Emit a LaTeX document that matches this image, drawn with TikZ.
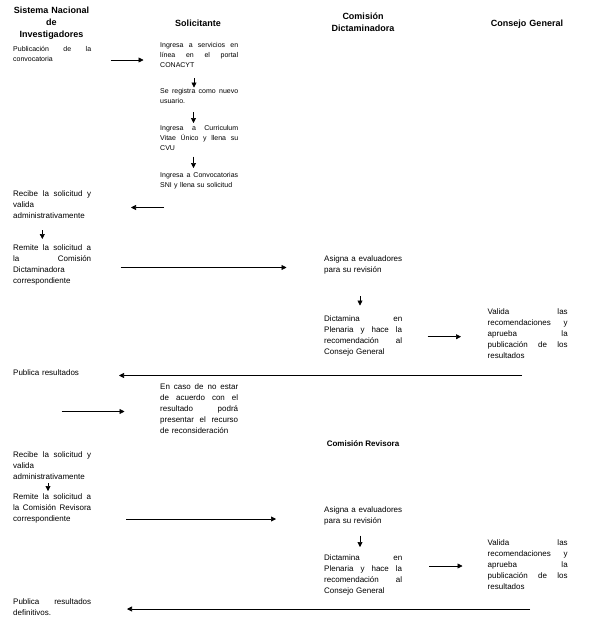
\documentclass[tikz,border=0pt]{standalone}
\usepackage{fontspec}
\setmainfont{Liberation Sans}
\usetikzlibrary{arrows.meta}
\newcommand{\jl}[2][78pt]{\makebox[#1][s]{\spaceskip=0.28em plus 1fil\relax #2}}
\begin{document}
\begin{tikzpicture}[x=1pt,y=-1pt,
  hdr/.style={font=\fontsize{9}{12.2}\selectfont\bfseries, text width=110pt, align=center, inner sep=0pt, anchor=base},
  sub/.style={font=\fontsize{8}{11}\selectfont\bfseries, inner sep=0pt, anchor=base},
  sm/.style={font=\fontsize{7}{10.2}\selectfont, text width=78pt, align=left, inner sep=0pt, anchor=base west},
  tx/.style={font=\fontsize{8}{11}\selectfont, text width=78pt, align=left, inner sep=0pt, anchor=base west},
  arr/.style={line width=0.6pt, -{Triangle[length=5pt,width=5pt]}}]
\useasboundingbox[fill=white] (0,0) rectangle (590,630);

% headers
\node[hdr] (h1) at (51.5,13.3) {Sistema Nacional\\de\\Investigadores};
\node[hdr] (h2) at (198,26.5) {Solicitante};
\node[hdr] (h3) at (363,19) {Comisión\\Dictaminadora};
\node[hdr] (h4) at (527,26) {Consejo General};

% column 1
\node[sm] (pub) at (13,51.5) {\jl{Publicación de la}\\convocatoria};
\node[tx] (rec1) at (13,196.5) {\jl{Recibe la solicitud y}\\valida\\administrativamente};
\node[tx] (rem1) at (13,250) {\jl{Remite la solicitud a}\\\jl{la Comisión}\\Dictaminadora\\correspondiente};
\node[tx] (pubr) at (13,375) {Publica resultados};
\node[tx] (rec2) at (13,457) {\jl{Recibe la solicitud y}\\valida\\administrativamente};
\node[tx] (rem2) at (13,499.5) {\jl{Remite la solicitud a}\\\jl{la Comisión Revisora}\\correspondiente};
\node[tx] (pubd) at (13,604) {\jl{Publica resultados}\\definitivos.};

% column 2
\node[sm] (ing) at (160,47.3) {\jl{Ingresa a servicios en}\\\jl{línea en el portal}\\CONACYT};
\node[sm] (reg) at (160,93) {\jl{Se registra como nuevo}\\usuario.};
\node[sm] (cvu) at (160,130.5) {\jl{Ingresa a Curriculum}\\\jl{Vitae Único y llena su}\\CVU};
\node[sm] (conv) at (160,177.3) {\jl{Ingresa a Convocatorias}\\SNI y llena su solicitud};
\node[tx] (caso) at (160,389.5) {\jl{En caso de no estar}\\\jl{de acuerdo con el}\\\jl{resultado podrá}\\\jl{presentar el recurso}\\de reconsideración};

% column 3
\node[tx] (asig1) at (324,261.3) {\jl{Asigna a evaluadores}\\para su revisión};
\node[tx] (dict1) at (324,321.7) {\jl{Dictamina en}\\\jl{Plenaria y hace la}\\\jl{recomendación al}\\Consejo General};
\node[sub] (crev) at (363,446) {Comisión Revisora};
\node[tx] (asig2) at (324,512.5) {\jl{Asigna a evaluadores}\\para su revisión};
\node[tx] (dict2) at (324,560) {\jl{Dictamina en}\\\jl{Plenaria y hace la}\\\jl{recomendación al}\\Consejo General};

% column 4
\node[tx,text width=80pt] (val1) at (487.5,314) {\jl[80pt]{Valida las}\\\jl[80pt]{recomendaciones y}\\\jl[80pt]{aprueba la}\\\jl[80pt]{publicación de los}\\resultados};
\node[tx,text width=80pt] (val2) at (487.5,545) {\jl[80pt]{Valida las}\\\jl[80pt]{recomendaciones y}\\\jl[80pt]{aprueba la}\\\jl[80pt]{publicación de los}\\resultados};

% arrow end points
\coordinate (a1s) at (110.5,60);  \coordinate (a1e) at (143.5,60);
\coordinate (a2s) at (194,78);    \coordinate (a2e) at (194,87.5);
\coordinate (a3s) at (193.5,112); \coordinate (a3e) at (193.5,123);
\coordinate (a4s) at (193.5,156.5); \coordinate (a4e) at (193.5,168);
\coordinate (a5s) at (164,207.5); \coordinate (a5e) at (131,207.5);
\coordinate (a6s) at (42.3,230);  \coordinate (a6e) at (42.3,239);
\coordinate (a7s) at (120.7,267.5); \coordinate (a7e) at (286.5,267.5);
\coordinate (a8s) at (360,296);   \coordinate (a8e) at (360,305.5);
\coordinate (a9s) at (427.7,336.7); \coordinate (a9e) at (461,336.7);
\coordinate (a10s) at (522,375.5); \coordinate (a10e) at (119,375.5);
\coordinate (a11s) at (61.7,411.5); \coordinate (a11e) at (124.5,411.5);
\coordinate (a12s) at (48,483);   \coordinate (a12e) at (48,491);
\coordinate (a13s) at (126,519);  \coordinate (a13e) at (276,519);
\coordinate (a14s) at (360,535.5); \coordinate (a14e) at (360,547);
\coordinate (a15s) at (429,566);  \coordinate (a15e) at (462.5,566);
\coordinate (a16s) at (530,609);  \coordinate (a16e) at (127,609);

\foreach \i in {1,...,16} \draw[arr] (a\i s) -- (a\i e);
\end{tikzpicture}
\end{document}
